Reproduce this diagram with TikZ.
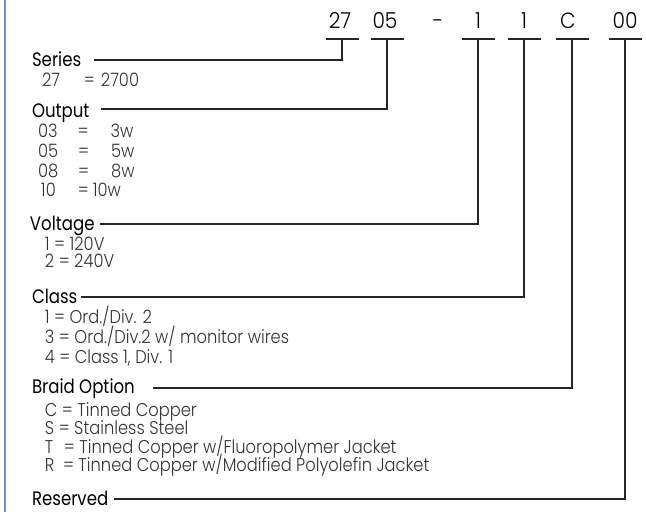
\documentclass[tikz,border=0pt]{standalone}
\usepackage{fontspec}
\setmainfont{Poppins}[FakeStretch=0.85]
\newfontfamily\lightfont{Poppins Light}[FakeStretch=0.88]
\newfontfamily\codefont{Poppins Light}[FakeStretch=0.92]
\usepackage{tikz}
\definecolor{frameblue}{RGB}{112,144,200}
\newcommand{\barhalf}{16.5pt}
\tikzstyle{heading}=[anchor=base west, inner sep=0, outer sep=0, font=\fontsize{19.5}{19.5}\selectfont]
\tikzstyle{entry}=[anchor=base west, inner sep=0, outer sep=0, text=black!80, font=\lightfont\fontsize{18.5}{18.5}\selectfont]
\tikzstyle{code}=[anchor=base, inner sep=0, outer sep=0, font=\codefont\fontsize{22}{22}\selectfont]
\tikzstyle{lead}=[draw=black!85, line width=1.6pt]
\tikzstyle{partcode}=[x=1pt, y=-1pt,
                      % Fixed page size, same as the artwork.
                      execute at begin picture={\useasboundingbox (0,0) rectangle (646,512);}]

\begin{document}
\begin{tikzpicture}[partcode]
        \draw[frameblue, line width=2pt] (5,0) -- (5,512);
        % Part number along the top.
        \node[code] (K1) at (340, 28) {27};
        \node[code] (K2) at (385, 28) {05};
        \node[code] (K3) at (438, 28) {-};
        \node[code] (K4) at (478, 28) {1};
        \node[code] (K5) at (524, 28) {1};
        \node[code] (K6) at (568, 28) {C};
        \node[code] (K7) at (625, 28) {00};
        \coordinate (T1) at (342, 39);
        \coordinate (T2) at (387, 39);
        \coordinate (T3) at (478, 39);
        \coordinate (T4) at (524, 39);
        \coordinate (T5) at (572, 39);
        \coordinate (T6) at (625, 39);
        \foreach \t in {T1,T2,T3,T4,T5,T6}
            \draw[lead] ([xshift=-\barhalf]\t) -- ([xshift=\barhalf]\t);
        % Headings and their values.
        \node[heading] (Ser)  at (32, 66)  {Series};
        \node[entry]   (Ser1) at (42, 86)  {27\hspace{24pt}=\hspace{6pt}2700};
        \node[heading] (Out)  at (32, 117) {Output};
        \node[entry]   (Out1) at (38, 137) {03\hspace{20pt}=\hspace{22pt}3w};
        \node[entry]   (Out2) at (38, 157) {05\hspace{20pt}=\hspace{22pt}5w};
        \node[entry]   (Out3) at (38, 177) {08\hspace{20pt}=\hspace{22pt}8w};
        \node[entry]   (Out4) at (41, 196) {10\hspace{22pt}=\hspace{4pt}10w};
        \node[heading] (Vol)  at (30, 230) {Voltage};
        \node[entry]   (Vol1) at (45, 250) {1 = 120V};
        \node[entry]   (Vol2) at (45, 267) {2 = 240V};
        \node[heading] (Cla)  at (32, 303) {Class};
        \node[entry]   (Cla1) at (45, 323) {1 = Ord./Div. 2};
        \node[entry]   (Cla2) at (45, 343) {3 = Ord./Div.2 w/ monitor wires};
        \node[entry]   (Cla3) at (45, 363) {4 = Class 1, Div. 1};
        \node[heading] (Bra)  at (32, 393) {Braid Option};
        \node[entry]   (Bra1) at (45, 416) {C = Tinned Copper};
        \node[entry]   (Bra2) at (45, 434.5) {S = Stainless Steel};
        \node[entry]   (Bra3) at (45, 453) {T\hspace{6pt} = Tinned Copper w/Fluoropolymer Jacket};
        \node[entry]   (Bra4) at (45, 471.5) {R\hspace{4pt} = Tinned Copper w/Modified Polyolefin Jacket};
        \node[heading] (Res)  at (32, 505) {Reserved};
        % Leaders up to the part number.
        \draw[lead] ([shift={(13,-6)}]Ser.base east) -| (T1);
        \draw[lead] ([shift={(11,-8)}]Out.base east) -| (T2);
        \draw[lead] ([shift={(5,-6)}]Vol.base east) -| (T3);
        \draw[lead] ([shift={(4,-6)}]Cla.base east) -| (T4);
        \draw[lead] ([shift={(18,-5)}]Bra.base east) -| (T5);
        \draw[lead] ([shift={(6,-6)}]Res.base east) -| (T6);
    \end{tikzpicture}
\end{document}
